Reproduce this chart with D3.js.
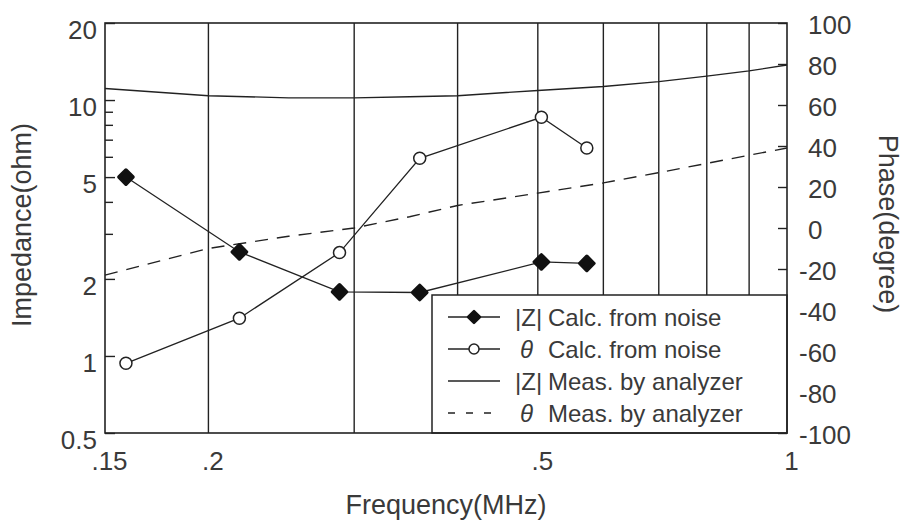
<!DOCTYPE html>
<html>
<head>
<meta charset="utf-8">
<script src="https://cdn.jsdelivr.net/npm/d3@7"></script>
<style>
body { margin: 0; background: #fff; }
text { font-family: "Liberation Sans", Arial, sans-serif; fill: #3a3a3a; }
</style>
</head>
<body>
<svg id="chart" width="907" height="522"></svg>
<script>

// calculated from noise
var freq = [0.159, 0.218, 0.288, 0.36, 0.505, 0.573];
var zCalc = [5.0, 2.55, 1.78, 1.77, 2.33, 2.3];
var phaseCalc = [-66, -44, -12, 34, 54, 39];

// measured by analyzer
var measFreq = [0.15, 0.2, 0.25, 0.3, 0.35, 0.4, 0.5, 0.6, 0.7, 0.8, 0.9, 1.0];
var zMeas = [11.1, 10.4, 10.2, 10.2, 10.3, 10.4, 10.9, 11.3, 11.8, 12.4, 13.0, 13.7];
var phaseMeas = [-23, -10, -4, 0, 5.5, 11, 17, 22, 27, 31.5, 35.5, 39];

var freqTicks = [0.15, 0.2, 0.5, 1];
var freqTickLabels = [".15", ".2", ".5", "1"];
var freqGrid = [0.2, 0.3, 0.4, 0.5, 0.6, 0.7, 0.8, 0.9];
var zTicks = [0.5, 1, 2, 5, 10, 20];
var zMinorTicks = [3, 4, 6, 7, 8, 9];
var phaseTicks = [-100, -80, -60, -40, -20, 0, 20, 40, 60, 80, 100];

var legendSymbols = ["|Z|", "\u03b8", "|Z|", "\u03b8"];
var legendLabels = ["Calc. from noise", "Calc. from noise", "Meas. by analyzer", "Meas. by analyzer"];

var margin = { top: 23, right: 120, bottom: 89, left: 105 },
    width = 907 - margin.left - margin.right,
    height = 522 - margin.top - margin.bottom;

var svg = d3.select("#chart");
var g = svg.append("g")
    .attr("transform", "translate(" + margin.left + "," + margin.top + ")");

var x = d3.scaleLog().domain([0.15, 1]).range([0, width]);
var y = d3.scaleLog().domain([0.5, 20]).range([height, 0]);
var yR = d3.scaleLinear().domain([-100, 100]).range([height, 0]);

var ink = "#222";

// vertical grid
g.append("g")
    .selectAll("line")
    .data(freqGrid)
    .enter().append("line")
    .attr("x1", function (d) { return x(d); })
    .attr("x2", function (d) { return x(d); })
    .attr("y1", 0)
    .attr("y2", height)
    .attr("stroke", ink)
    .attr("stroke-width", 1.4);

// left axis
var leftAxis = g.append("g")
    .call(d3.axisLeft(y).tickValues(zTicks).tickSizeInner(-10).tickSizeOuter(0).tickPadding(8)
        .tickFormat(function (d) { return String(d); }));
leftAxis.select(".domain").remove();
leftAxis.selectAll("line").attr("stroke", ink).attr("stroke-width", 1.4);
leftAxis.selectAll("text").attr("font-size", 26).attr("y", 7).attr("fill", "#3a3a3a");

var minorAxis = g.append("g")
    .call(d3.axisLeft(y).tickValues(zMinorTicks).tickSizeInner(-8).tickSizeOuter(0).tickFormat(""));
minorAxis.select(".domain").remove();
minorAxis.selectAll("line").attr("stroke", ink).attr("stroke-width", 1.4);

// right axis
var rightAxis = g.append("g")
    .attr("transform", "translate(" + width + ",0)")
    .call(d3.axisRight(yR).tickValues(phaseTicks).tickSizeInner(-9).tickSizeOuter(0).tickPadding(21)
        .tickFormat(function (d) { return String(d); }));
rightAxis.select(".domain").remove();
rightAxis.selectAll("line").attr("stroke", ink).attr("stroke-width", 1.4);
rightAxis.selectAll("text")
    .attr("font-size", 26)
    .attr("y", 2)
    .attr("fill", "#3a3a3a")
    .attr("x", function (d) { return d < 0 ? 12 : 21; });

// bottom axis
var bottomAxis = g.append("g")
    .attr("transform", "translate(0," + height + ")")
    .call(d3.axisBottom(x).tickValues(freqTicks).tickSize(0).tickPadding(19)
        .tickFormat(function (d, i) { return freqTickLabels[i]; }));
bottomAxis.select(".domain").remove();
bottomAxis.selectAll("text").attr("font-size", 26).attr("x", 4).attr("fill", "#3a3a3a");

// measured lines
var zLine = d3.line()
    .x(function (d, i) { return x(measFreq[i]); })
    .y(function (d) { return y(d); });
var pLine = d3.line()
    .x(function (d, i) { return x(measFreq[i]); })
    .y(function (d) { return yR(d); });

g.append("path")
    .datum(zMeas)
    .attr("d", zLine)
    .attr("fill", "none")
    .attr("stroke", ink)
    .attr("stroke-width", 1.4);

g.append("path")
    .datum(phaseMeas)
    .attr("d", pLine)
    .attr("fill", "none")
    .attr("stroke", ink)
    .attr("stroke-width", 1.4)
    .attr("stroke-dasharray", "13,9");

// calculated lines
var zCalcLine = d3.line()
    .x(function (d, i) { return x(freq[i]); })
    .y(function (d) { return y(d); });
var pCalcLine = d3.line()
    .x(function (d, i) { return x(freq[i]); })
    .y(function (d) { return yR(d); });

g.append("path")
    .datum(zCalc)
    .attr("d", zCalcLine)
    .attr("fill", "none")
    .attr("stroke", ink)
    .attr("stroke-width", 1.3);

g.append("path")
    .datum(phaseCalc)
    .attr("d", pCalcLine)
    .attr("fill", "none")
    .attr("stroke", ink)
    .attr("stroke-width", 1.3);

var diamond = d3.symbol().type(d3.symbolSquare).size(100);

g.append("g")
    .selectAll("path")
    .data(zCalc)
    .enter().append("path")
    .attr("d", diamond)
    .attr("transform", function (d, i) {
        return "translate(" + x(freq[i]) + "," + y(d) + ") rotate(45)";
    })
    .attr("fill", "#111")
    .attr("stroke", "#111")
    .attr("stroke-width", 3.5)
    .attr("stroke-linejoin", "round");

g.append("g")
    .selectAll("circle")
    .data(phaseCalc)
    .enter().append("circle")
    .attr("cx", function (d, i) { return x(freq[i]); })
    .attr("cy", function (d) { return yR(d); })
    .attr("r", 6)
    .attr("fill", "#fff")
    .attr("stroke", ink)
    .attr("stroke-width", 1.5);

// legend
var lx = 327, ly = 272;
var legend = g.append("g");
legend.append("rect")
    .attr("x", lx)
    .attr("y", ly)
    .attr("width", width - lx)
    .attr("height", height - ly)
    .attr("fill", "#fff")
    .attr("stroke", ink)
    .attr("stroke-width", 1.5);

var rows = legend.selectAll("g.row")
    .data(legendLabels)
    .enter().append("g")
    .attr("class", "row")
    .attr("transform", function (d, i) { return "translate(0," + (ly + 22 + i * 32) + ")"; });

rows.append("line")
    .attr("x1", lx + 16)
    .attr("x2", lx + 68)
    .attr("y1", 0)
    .attr("y2", 0)
    .attr("stroke", ink)
    .attr("stroke-width", 1.4)
    .attr("stroke-dasharray", function (d, i) { return i === 3 ? "7,11" : null; });

rows.filter(function (d, i) { return i === 0; })
    .append("path")
    .attr("d", d3.symbol().type(d3.symbolSquare).size(70))
    .attr("transform", "translate(" + (lx + 42) + ",0) rotate(45)")
    .attr("fill", "#111")
    .attr("stroke", "#111")
    .attr("stroke-width", 2.5)
    .attr("stroke-linejoin", "round");

rows.filter(function (d, i) { return i === 1; })
    .append("circle")
    .attr("cx", lx + 42)
    .attr("cy", 0)
    .attr("r", 5)
    .attr("fill", "#fff")
    .attr("stroke", ink)
    .attr("stroke-width", 1.5);

rows.append("text")
    .attr("x", function (d, i) { return legendSymbols[i] === "|Z|" ? lx + 83 : lx + 88; })
    .attr("y", 8.5)
    .attr("font-size", 24)
    .attr("font-style", function (d, i) { return legendSymbols[i] === "|Z|" ? "normal" : "italic"; })
    .text(function (d, i) { return legendSymbols[i]; });

rows.append("text")
    .attr("x", lx + 116)
    .attr("y", 8.5)
    .attr("font-size", 24)
    .text(function (d) { return d; });

// frame
g.append("rect")
    .attr("width", width)
    .attr("height", height)
    .attr("fill", "none")
    .attr("stroke", ink)
    .attr("stroke-width", 1.6);

// axis titles
svg.append("text")
    .attr("transform", "translate(31,225) rotate(-90)")
    .attr("text-anchor", "middle")
    .attr("font-size", 27)
    .text("Impedance(ohm)");

svg.append("text")
    .attr("transform", "translate(879,224) rotate(90)")
    .attr("text-anchor", "middle")
    .attr("font-size", 27)
    .text("Phase(degree)");

svg.append("text")
    .attr("x", 446)
    .attr("y", 514)
    .attr("text-anchor", "middle")
    .attr("font-size", 27)
    .text("Frequency(MHz)");

</script>
</body>
</html>
